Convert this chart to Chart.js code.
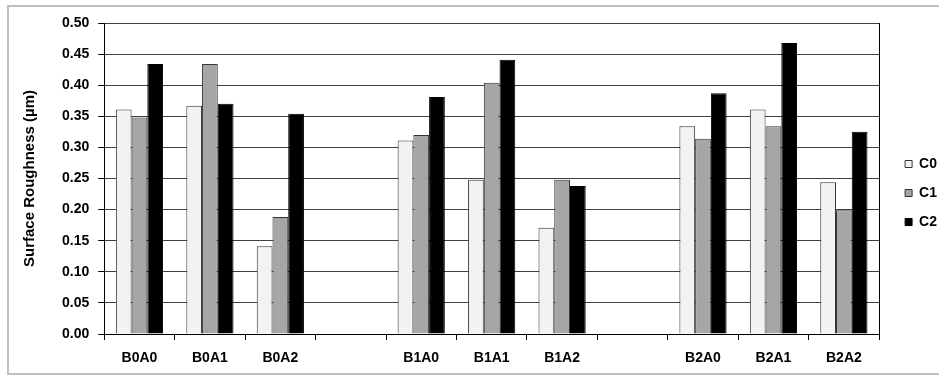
<!DOCTYPE html>
<html>
<head>
<meta charset="utf-8">
<script src="https://cdn.jsdelivr.net/npm/chart.js@4"></script>
<style>
  body { margin: 0; background: #fff; }
  #wrap { position: relative; width: 939px; height: 376px; }
</style>
</head>
<body>
<div id="wrap"><canvas id="myChart" width="939" height="376"></canvas></div>
<script>
// categories (blank slots are the gaps between B groups)
const categories = ['B0A0', 'B0A1', 'B0A2', '', 'B1A0', 'B1A1', 'B1A2', '', 'B2A0', 'B2A1', 'B2A2'];
const c0 = [0.361, 0.367, 0.141, null, 0.311, 0.248, 0.171, null, 0.334, 0.361, 0.244];
const c1 = [0.348, 0.434, 0.188, null, 0.320, 0.404, 0.248, null, 0.314, 0.334, 0.199];
const c2 = [0.434, 0.370, 0.354, null, 0.381, 0.441, 0.238, null, 0.387, 0.468, 0.325];
const yTicks = [0, 0.05, 0.1, 0.15, 0.2, 0.25, 0.3, 0.35, 0.4, 0.45, 0.5];

const boldFont = { family: "'Liberation Sans', Arial, sans-serif", size: 14, weight: 'bold' };
const titleFont = { family: "'Liberation Sans', Arial, sans-serif", size: 15, weight: 'bold' };

// light gray frame round the whole chart
const frame = {
	id: 'frame',
	beforeDraw(chart) {
		const c = chart.ctx;
		c.save();
		c.fillStyle = '#fff';
		c.fillRect(0, 0, chart.width, chart.height);
		c.strokeStyle = '#bfbfbf';
		c.lineWidth = 2;
		c.strokeRect(8, 6, 940, 368);
		c.restore();
	}
};

const ctx = document.getElementById('myChart');
const myChart = new Chart(ctx, {
	type: 'bar',
	data: {
		labels: categories,
		datasets: [
			{ label: 'C0', data: c0, backgroundColor: '#f2f2f2', borderColor: '#333333', borderWidth: 1 },
			{ label: 'C1', data: c1, backgroundColor: '#a6a6a6', borderColor: '#333333', borderWidth: 1 },
			{ label: 'C2', data: c2, backgroundColor: '#000000', borderColor: '#000000', borderWidth: 1 },
		],
	},
	options: {
		responsive: false,
		animation: false,
		layout: { padding: { left: 17, top: 23, right: -8, bottom: 13 } },
		datasets: { bar: { categoryPercentage: 0.67, barPercentage: 1 } },
		plugins: {
			tooltip: { enabled: false },
			legend: {
				position: 'right',
				labels: {
					color: '#000',
					font: boldFont,
					boxWidth: 7,
					boxHeight: 7,
					padding: 15,
					useBorderRadius: false,
				},
			},
		},
		scales: {
			x: {
				afterFit: (axis) => { axis.height = 29; },
				grid: { offset: true, drawOnChartArea: false, color: '#000', tickLength: 6 },
				border: { color: '#000', width: 1 },
				ticks: { color: '#000', font: boldFont, padding: 10, maxRotation: 0, autoSkip: false },
			},
			y: {
				min: 0,
				max: 0.5,
				afterBuildTicks: (axis) => { axis.ticks = yTicks.map((v) => ({ value: v })); },
				grid: { color: '#404040', tickColor: '#000', tickLength: 6 },
				border: { color: '#000', width: 1 },
				ticks: { color: '#000', font: boldFont, padding: 9, callback: (v) => v.toFixed(2) },
				title: { display: true, text: 'Surface Roughness (µm)', color: '#000', font: titleFont, padding: { bottom: 14 } },
			},
			y2: {
				position: 'right',
				min: 0,
				max: 0.5,
				afterFit: (axis) => { axis.width = 11; },
				grid: { drawOnChartArea: false, drawTicks: false },
				border: { color: '#000', width: 1 },
				ticks: { display: false },
			},
		},
	},
	plugins: [frame],
});
</script>
</body>
</html>
